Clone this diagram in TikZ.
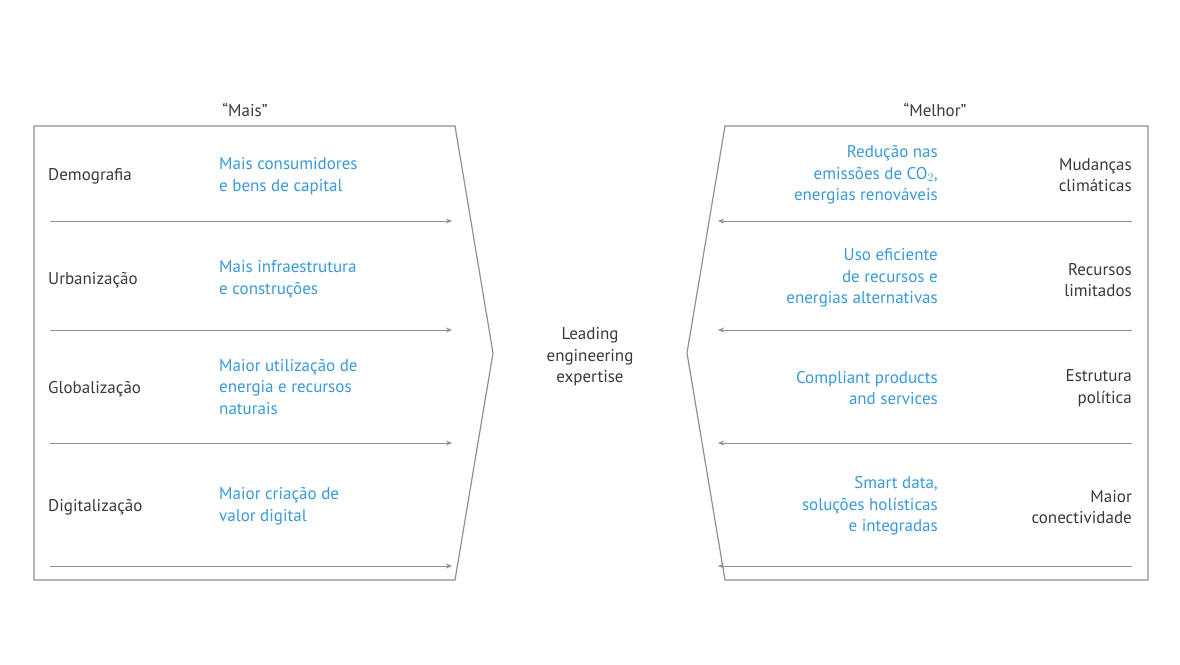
\documentclass[tikz,border=0pt]{standalone}
\usepackage{fontspec}
\setmainfont{PT Sans}
\usetikzlibrary{arrows.meta}
\definecolor{frame}{HTML}{8A909C}
\definecolor{blu}{HTML}{3A9AD9}
\definecolor{txt}{HTML}{3A3A3A}
\tikzset{
  every node/.style={font=\fontsize{17}{21.5}\selectfont},
  lbl/.style={text=txt, anchor=west, align=left, inner sep=0},
  lblr/.style={text=txt, anchor=east, align=right, inner sep=0},
  bl/.style={text=blu, anchor=west, align=left, inner sep=0},
  blr/.style={text=blu, anchor=east, align=right, inner sep=0},
  arr/.style={draw=frame, line width=0.8pt, -{Stealth[length=6pt,width=5pt]}},
  shp/.style={draw=frame, line width=1.2pt}
}
\begin{document}
\begin{tikzpicture}[x=1pt,y=-1pt]
\useasboundingbox[fill=white] (0,0) rectangle (1180,664);
\draw[shp] (34,126) -- (455,126) -- (493,353) -- (455,580) -- (34,580) -- cycle;
\draw[shp] (1148,126) -- (725,126) -- (687,353) -- (725,580) -- (1148,580) -- cycle;
\node[text=txt] (t1) at (245,110) {“Mais”};
\node[text=txt] (t2) at (935,110) {“Melhor”};
\node[text=txt, align=center] (c) at (590,357) {Leading\\engineering\\expertise};
% left
\foreach \y [count=\i] in {221,330,443,566}{
  \coordinate (la\i) at (50,\y); \coordinate (lb\i) at (452,\y);
  \draw[arr] (la\i) -- (lb\i);
  \coordinate (ra\i) at (1132,\y); \coordinate (rb\i) at (718,\y);
  \draw[arr] (ra\i) -- (rb\i);
}
\node[lbl] (l1) at (48,176) {Demografia};
\node[bl] (b1) at (219,176) {Mais consumidores\\e bens de capital};
\node[lbl] (l2) at (48,280) {Urbanização};
\node[bl] (b2) at (219,279) {Mais infraestrutura\\e construções};
\node[lbl] (l3) at (48,389) {Globalização};
\node[bl] (b3) at (219,387) {Maior utilização de\\energia e recursos\\naturais};
\node[lbl] (l4) at (48,507) {Digitalização};
\node[bl] (b4) at (219,506) {Maior criação de\\valor digital};
% right
\node[blr] (r1) at (938,175) {Redução nas\\emissões de CO$_2$,\\energias renováveis};
\node[lblr] (s1) at (1132,175) {Mudanças\\climáticas};
\node[blr] (r2) at (938,278) {Uso eficiente\\de recursos e\\energias alternativas};
\node[lblr] (s2) at (1132,280) {Recursos\\limitados};
\node[blr] (r3) at (938,388) {Compliant products\\and services};
\node[lblr] (s3) at (1132,388) {Estrutura\\política};
\node[blr] (r4) at (938,506) {Smart data,\\soluções holísticas\\e integradas};
\node[lblr] (s4) at (1132,507) {Maior\\conectividade};
\end{tikzpicture}
\end{document}
